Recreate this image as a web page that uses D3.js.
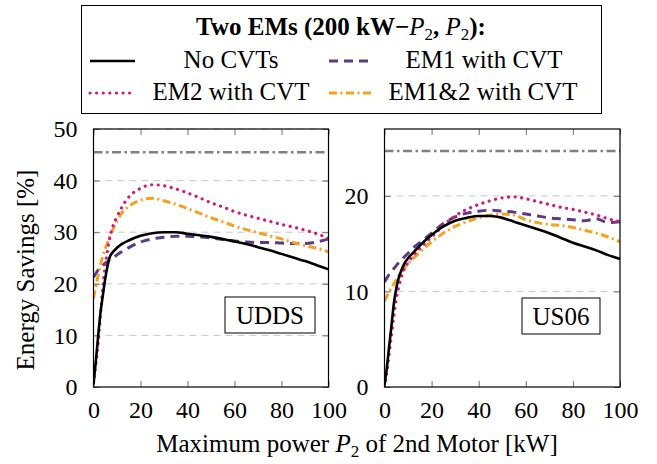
<!DOCTYPE html>
<html>
<head>
<meta charset="utf-8">
<script src="https://cdn.jsdelivr.net/npm/d3@7"></script>
<style>
  body { margin: 0; background: #fff; }
  svg { display: block; font-family: "Liberation Serif", "DejaVu Serif", serif; }
</style>
</head>
<body>
<svg width="657" height="464"></svg>
<script>
/* data: x is max power of 2nd motor [kW], y is energy savings [%] */
var power = [0, 1, 2, 3, 4, 5, 6, 7, 8, 10, 12, 15, 20, 25, 30, 35, 40, 45, 50, 55, 60, 65, 70, 75, 80, 85, 90, 95, 100];

var uddsNoCvt  = [0.5, 5, 10, 14.5, 17.8, 21, 23.5, 25.3, 26, 27, 27.7, 28.4, 29.3, 29.8, 30, 30, 29.7, 29.4, 29.1, 28.7, 28.2, 27.7, 27.1, 26.5, 25.8, 25.1, 24.4, 23.6, 22.8];
var uddsEm1    = [21.3, 22, 22.7, 23.2, 23.6, 24, 24.3, 24.7, 25, 25.6, 26.2, 27, 28.1, 28.7, 29, 29.2, 29.2, 29.1, 28.9, 28.6, 28.3, 28.1, 28, 28, 27.9, 27.8, 27.8, 28.1, 28.7];
var uddsEm2    = [0.8, 4.5, 8.5, 14, 19.5, 23.5, 26.5, 29, 30.8, 33, 34.8, 36.8, 38.5, 39.2, 39, 38.4, 37.6, 36.7, 35.7, 34.9, 34, 33.3, 32.7, 32.1, 31.5, 31, 30.4, 29.7, 28.8];
var uddsEm12   = [17.2, 19.5, 21.7, 23.7, 25.5, 26.8, 28, 29.2, 30.3, 32.2, 33.7, 35, 36.2, 36.6, 36.1, 35.4, 34.6, 33.7, 32.8, 32, 31.2, 30.5, 29.9, 29.3, 28.7, 28, 27.4, 26.9, 26.2];
var uddsBound  = 45.5;

var us06NoCvt  = [0.2, 2, 4.3, 6.5, 8.8, 10.3, 11.4, 12.1, 12.7, 13.5, 14, 14.8, 15.9, 16.8, 17.4, 17.7, 17.9, 17.9, 17.7, 17.3, 16.9, 16.5, 16.1, 15.6, 15.1, 14.7, 14.3, 13.8, 13.4];
var us06Em1    = [11, 11.4, 11.8, 12.1, 12.4, 12.7, 13, 13.2, 13.5, 14, 14.5, 15.1, 16.1, 17.1, 17.8, 18.2, 18.4, 18.5, 18.4, 18.3, 18.1, 17.9, 17.7, 17.6, 17.5, 17.4, 17.6, 17.2, 17.3];
var us06Em2    = [0, 1.5, 3.5, 5.5, 7.5, 9.2, 10.4, 11.4, 12.1, 13, 13.7, 14.5, 15.7, 16.9, 17.9, 18.6, 19.1, 19.5, 19.8, 19.9, 19.7, 19.4, 19.1, 18.8, 18.6, 18.3, 18, 17.6, 17.3];
var us06Em12   = [9, 9.5, 10, 10.4, 10.8, 11.2, 11.6, 12, 12.3, 12.9, 13.4, 14.1, 15.2, 16.1, 16.8, 17.3, 17.7, 18, 18.1, 18, 17.5, 17.2, 17, 16.9, 16.7, 16.4, 16.1, 15.7, 15.2];
var us06Bound  = 24.7;

var xTicks = [0, 20, 40, 60, 80, 100];
var uddsTicks = [0, 10, 20, 30, 40, 50];
var us06Ticks = [0, 10, 20];

var seriesNames = ["No CVTs", "EM1 with CVT", "EM2 with CVT", "EM1&2 with CVT"];

/* line styles per series */
var styles = [
  {color: "#000000", width: 2.6, dash: null, cap: "butt"},
  {color: "#5b3b85", width: 3, dash: "9,6", cap: "butt"},
  {color: "#d01c7c", width: 3.2, dash: "0.1,6.5", cap: "round"},
  {color: "#f5a21e", width: 3, dash: "8,3.5,2,3.5", cap: "butt"}
];

var svg = d3.select("svg");
var plotTop = 129, plotBottom = 387;

var panels = [
  {name: "UDDS", left: 93.5, right: 328.5, ymax: 50, ticks: uddsTicks, bound: uddsBound,
   series: [uddsNoCvt, uddsEm1, uddsEm2, uddsEm12], box: {x: 225, y: 297, w: 90, h: 36}},
  {name: "US06", left: 384.5, right: 620, ymax: 27, ticks: us06Ticks, bound: us06Bound,
   series: [us06NoCvt, us06Em1, us06Em2, us06Em12], box: {x: 522, y: 298, w: 78, h: 36}}
];

panels.forEach(function(p, pi) {
  var x = d3.scaleLinear().domain([0, 100]).range([p.left, p.right]);
  var y = d3.scaleLinear().domain([0, p.ymax]).range([plotBottom, plotTop]);
  var g = svg.append("g");

  g.append("clipPath").attr("id", "clip" + pi)
    .append("rect").attr("x", p.left).attr("y", plotTop)
    .attr("width", p.right - p.left).attr("height", plotBottom - plotTop);

  /* horizontal grid */
  g.selectAll(".grid").data(p.ticks.filter(function(t) { return t > 0; }))
    .enter().append("line")
    .attr("x1", p.left).attr("x2", p.right)
    .attr("y1", function(d) { return y(d); }).attr("y2", function(d) { return y(d); })
    .attr("stroke", "#c8c8c8").attr("stroke-width", 1).attr("stroke-dasharray", "7,5");

  /* axes, ticks inward, labels only on left/bottom */
  g.append("g").attr("transform", "translate(0," + plotBottom + ")")
    .call(d3.axisBottom(x).tickValues(xTicks).tickSize(-6).tickPadding(14).tickFormat(d3.format("d")));
  g.append("g").attr("transform", "translate(0," + plotTop + ")")
    .call(d3.axisTop(x).tickValues(xTicks).tickSize(-6).tickFormat(""));
  g.append("g").attr("transform", "translate(" + p.left + ",0)")
    .call(d3.axisLeft(y).tickValues(p.ticks).tickSize(-6).tickPadding(16).tickFormat(d3.format("d")));
  g.append("g").attr("transform", "translate(" + p.right + ",0)")
    .call(d3.axisRight(y).tickValues(p.ticks).tickSize(-6).tickFormat(""));

  g.selectAll(".domain").remove();
  g.selectAll(".tick line").attr("stroke", "#707070").attr("stroke-width", 1);
  g.selectAll(".tick text").attr("font-family", "Liberation Serif").attr("font-size", 24).attr("fill", "#000");

  /* bound line */
  g.append("line")
    .attr("x1", p.left).attr("x2", p.right)
    .attr("y1", y(p.bound)).attr("y2", y(p.bound))
    .attr("stroke", "#808080").attr("stroke-width", 2.6).attr("stroke-dasharray", "9,3.5,2.5,3.5");

  var line = d3.line()
    .x(function(d, i) { return x(power[i]); })
    .y(function(d) { return y(d); })
    .curve(d3.curveMonotoneX);

  var curves = g.append("g").attr("clip-path", "url(#clip" + pi + ")");
  [1, 3, 2, 0].forEach(function(si) {
    var s = styles[si];
    curves.append("path")
      .datum(p.series[si])
      .attr("d", line)
      .attr("fill", "none")
      .attr("stroke", s.color)
      .attr("stroke-width", s.width)
      .attr("stroke-linecap", s.cap)
      .attr("stroke-dasharray", s.dash);
  });

  /* frame */
  g.append("rect")
    .attr("x", p.left).attr("y", plotTop)
    .attr("width", p.right - p.left).attr("height", plotBottom - plotTop)
    .attr("fill", "none").attr("stroke", "#000").attr("stroke-width", 1.2);

  /* cycle label */
  g.append("rect")
    .attr("x", p.box.x).attr("y", p.box.y).attr("width", p.box.w).attr("height", p.box.h)
    .attr("fill", "#fff").attr("stroke", "#000").attr("stroke-width", 1);
  g.append("text")
    .attr("x", p.box.x + p.box.w / 2).attr("y", p.box.y + p.box.h / 2 + 9)
    .attr("text-anchor", "middle").attr("font-size", 25)
    .text(p.name);
});

/* axis titles */
svg.append("text")
  .attr("transform", "translate(34,270) rotate(-90)")
  .attr("text-anchor", "middle").attr("font-size", 25)
  .text("Energy Savings [%]");

var xt = svg.append("text")
  .attr("x", 357).attr("y", 452)
  .attr("text-anchor", "middle").attr("font-size", 25);
xt.append("tspan").text("Maximum power ");
xt.append("tspan").attr("font-style", "italic").text("P");
xt.append("tspan").attr("font-size", 17).attr("dy", 5).text("2");
xt.append("tspan").attr("dy", -5).text(" of 2nd Motor [kW]");

/* legend */
var lg = svg.append("g");
lg.append("rect")
  .attr("x", 81.5).attr("y", 5.5).attr("width", 520).attr("height", 108)
  .attr("fill", "#fff").attr("stroke", "#000").attr("stroke-width", 1);

var title = lg.append("text")
  .attr("x", 341).attr("y", 35)
  .attr("text-anchor", "middle").attr("font-size", 25).attr("font-weight", "bold");
title.append("tspan").text("Two EMs (200 kW\u2212");
title.append("tspan").attr("font-style", "italic").attr("font-weight", "normal").text("P");
title.append("tspan").attr("font-size", 17).attr("font-weight", "normal").attr("dy", 5).text("2");
title.append("tspan").attr("dy", -5).text(", ");
title.append("tspan").attr("font-style", "italic").attr("font-weight", "normal").text("P");
title.append("tspan").attr("font-size", 17).attr("font-weight", "normal").attr("dy", 5).text("2");
title.append("tspan").attr("dy", -5).text("):");

var legendPos = [
  {lx: 90, ty: 68, tx: 231},
  {lx: 329, ty: 68, tx: 484},
  {lx: 90, ty: 100, tx: 231},
  {lx: 329, ty: 100, tx: 483}
];
seriesNames.forEach(function(name, i) {
  var s = styles[i], pos = legendPos[i];
  lg.append("line")
    .attr("x1", pos.lx).attr("x2", pos.lx + 45)
    .attr("y1", pos.ty - 7).attr("y2", pos.ty - 7)
    .attr("stroke", s.color).attr("stroke-width", s.width)
    .attr("stroke-linecap", s.cap).attr("stroke-dasharray", s.dash);
  lg.append("text")
    .attr("x", pos.tx).attr("y", pos.ty)
    .attr("text-anchor", "middle").attr("font-size", 25)
    .text(name);
});
</script>
</body>
</html>
